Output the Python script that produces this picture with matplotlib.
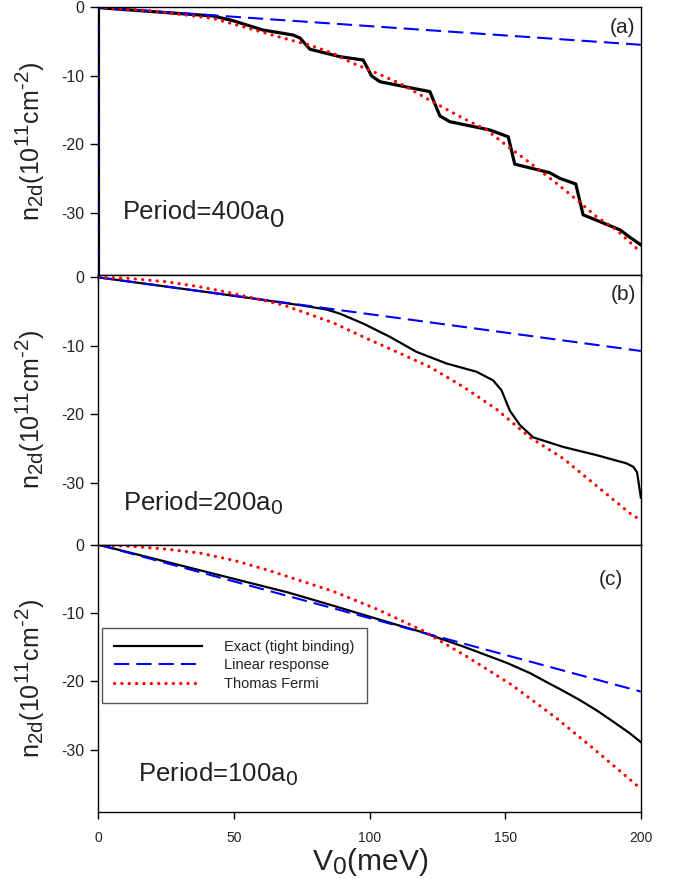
import matplotlib
matplotlib.use("Agg")
import matplotlib.pyplot as plt
import matplotlib._mathtext as _mt

_mt.SHRINK_FACTOR = 0.82

plt.rcParams['font.family'] = ['Liberation Sans', 'DejaVu Sans']
plt.rcParams['mathtext.fontset'] = 'custom'
plt.rcParams['mathtext.rm'] = 'Liberation Sans'
plt.rcParams['mathtext.it'] = 'Liberation Sans:italic'
plt.rcParams['mathtext.default'] = 'regular'

# ---------------- data ----------------
# Panel (a): Period = 400 a0
va_exact = [0, 0, 2.4, 42.2, 49.6, 60.6, 71.7, 74.3, 78.0, 89.0, 97.6, 100.7, 103.8,
            122.2, 125.9, 129.6, 144.3, 151.1, 153.5, 166.4, 170.1, 176.0, 178.7,
            192.3, 196.0, 200.0]
na_exact = [-40, 0, -0.1, -1.24, -1.93, -3.29, -4.02, -4.46, -6.11, -7.19, -7.68, -10.0,
            -10.85, -12.3, -15.86, -16.7, -17.9, -18.9, -22.9, -24.15, -24.97, -25.8,
            -30.3, -32.5, -33.6, -34.7]
va_lin = [0, 0, 200]
na_lin = [-40, 0, -5.45]
va_tf = [0, 20, 42.2, 55, 70.6, 78.0, 86.5, 93.3, 101.3, 111.2, 121.0, 128.4, 135,
         143.1, 151.1, 159.1, 168.9, 176.3, 183.7, 191.0, 198.4, 200]
na_tf = [0, -0.5, -1.6, -3.0, -4.75, -5.5, -6.7, -8.07, -9.38, -11.1, -13.3, -14.9,
         -16.3, -17.9, -20.35, -22.7, -25.7, -28.1, -30.6, -32.5, -35.2, -35.6]

# Panel (b): Period = 200 a0
vb_exact = [0, 40, 60, 75, 84.1, 89.0, 97.6, 107.5, 117.3, 128.4, 139.4, 145.5, 148.6,
            151.7, 155.4, 160.3, 171.4, 183.7, 194.7, 197.2, 198.6, 200]
nb_exact = [0, -2.15, -3.25, -4.1, -4.7, -5.3, -6.75, -8.7, -10.9, -12.6, -13.8, -15.06,
            -16.5, -19.5, -21.6, -23.4, -24.8, -26.0, -27.2, -27.7, -28.5, -32.2]
vb_lin = [0, 200]
nb_lin = [0, -10.76]
vb_tf = [0, 10, 25.1, 37, 49.7, 68.1, 86.6, 97.6, 110.0, 122.2, 134.5, 146.8, 159.1,
         171.4, 183.7, 197.2, 200]
nb_tf = [0, -0.1, -0.64, -1.35, -2.35, -4.03, -6.65, -8.7, -10.9, -13.1, -16.0, -19.3,
         -23.4, -26.5, -30.5, -34.9, -35.4]

# Panel (c): Period = 100 a0
vc_exact = [0, 25, 50, 70, 85.3, 97.6, 109.9, 118.5, 134.5, 150.6, 159.1, 165.2, 171.4,
            177.5, 183.7, 189.8, 195.9, 200]
nc_exact = [0, -2.5, -5.0, -7.0, -8.78, -10.25, -11.71, -12.7, -14.9, -17.3, -18.79,
            -20.1, -21.4, -22.75, -24.25, -25.9, -27.6, -28.9]
vc_lin = [0, 200]
nc_lin = [0, -21.5]
vc_tf = [0, 12.8, 25, 37.4, 50, 62.0, 86.6, 102.6, 119.2, 135.7, 152.3, 168.9, 182.4,
         199.0, 200]
nc_tf = [0, -0.25, -0.65, -1.22, -2.3, -3.66, -6.83, -9.42, -12.5, -16.35, -20.5,
         -25.4, -29.8, -35.4, -35.6]

yticks = [0, -10, -20, -30]
ytick_labels = ['0', '-10', '-20', '-30']
xticks = [0, 50, 100, 150, 200]
xtick_labels = ['0', '50', '100', '150', '200']
periods = ['Period=400a', 'Period=200a$_0$', 'Period=100a$_0$']
panel_tags = ['(a)', '(b)', '(c)']
legend_labels = ['Exact (tight binding)', 'Linear response', 'Thomas Fermi']
ylabel_text = 'n$_{2d}$(10$^{11}$cm$^{\\text{-}2}$)'

# ---------------- figure ----------------
W, H = 676, 880
fig = plt.figure(figsize=(W / 100, H / 100), dpi=100)
L, R = 0.1457, 0.948
bounds = [(0.6875, 0.9915), (0.381, 0.6875), (0.0775, 0.381)]
axes = [fig.add_axes([L, b, R - L, t - b]) for (b, t) in bounds]

txtc = '#222222'
narrow = ['Liberation Sans Narrow', 'Liberation Sans', 'DejaVu Sans']
data = [
    (va_exact, na_exact, va_lin, na_lin, va_tf, na_tf, 2.3),
    (vb_exact, nb_exact, vb_lin, nb_lin, vb_tf, nb_tf, 1.6),
    (vc_exact, nc_exact, vc_lin, nc_lin, vc_tf, nc_tf, 1.6),
]
period_pos = [(0.045, 0.209), (0.045, 0.127), (0.073, 0.112)]
tag_pos = [(0.989, 0.925), (0.992, 0.926), (0.967, 0.87)]
period_texts = []

for i, ax in enumerate(axes):
    ve, ne, vl, nl, vt, nt, lwe = data[i]
    h1, = ax.plot(ve, ne, color='black', lw=lwe)
    h2, = ax.plot(vl, nl, color='#0000ff', lw=1.5, dashes=(7.3, 3.4))
    h3, = ax.plot(vt, nt, color='#ff0000', lw=2.3, dashes=(0.05, 2.25),
                  dash_capstyle='round')
    ax.set_xlim(0, 200)
    ax.set_ylim(-39.1, 0.0 if i != 1 else 0.35)
    ax.set_yticks(yticks)
    ax.set_yticklabels(ytick_labels)
    ax.set_xticks(xticks)
    ax.tick_params(axis='y', direction='out', length=6, width=1, pad=4,
                   labelsize=11.5, labelcolor=txtc)
    if i == 2:
        ax.set_xticklabels(xtick_labels, family=narrow)
        ax.tick_params(axis='x', direction='out', length=5, width=1, pad=8.5,
                       labelsize=10, labelcolor=txtc)
        ax.set_xlabel('V$_0$(meV)', fontsize=21.5, color=txtc, labelpad=1)
    elif i == 0:
        ax.tick_params(axis='x', direction='out', length=5, width=1,
                       labelbottom=False)
    else:
        ax.tick_params(axis='x', length=0, labelbottom=False)
    for s in ax.spines.values():
        s.set_linewidth(1.0)
    ax.set_ylabel(ylabel_text, fontsize=18, color=txtc)
    ax.yaxis.set_label_coords(-0.095, 0.5)
    pt = ax.text(period_pos[i][0], period_pos[i][1], periods[i], transform=ax.transAxes,
                 fontsize=18.5, color=txtc, ha='left', va='baseline')
    period_texts.append(pt)
    ax.text(tag_pos[i][0], tag_pos[i][1], panel_tags[i], transform=ax.transAxes,
            fontsize=15, color=txtc, ha='right', va='center')
    if i == 2:
        leg = ax.legend([h1, h2, h3], legend_labels, loc='upper left',
                        bbox_to_anchor=(0.0065, 0.69), fontsize=10.5,
                        handlelength=6.0, handletextpad=1.5, labelspacing=0.3,
                        borderpad=0.85, borderaxespad=0, fancybox=False,
                        framealpha=1, edgecolor='#555555')
        leg.get_frame().set_linewidth(1.0)
        for t in leg.get_texts():
            t.set_color(txtc)

# full-size lowered "0" subscript for the (a) period label
renderer = fig.canvas.get_renderer()
bb = period_texts[0].get_window_extent(renderer)
yb = axes[0].transAxes.transform(period_pos[0])[1]
fig.text((bb.x1 + 0.5) / W, (yb - 8) / H, '0', fontsize=18.5, color=txtc,
         ha='left', va='baseline')

fig.savefig('out.png', dpi=100)
